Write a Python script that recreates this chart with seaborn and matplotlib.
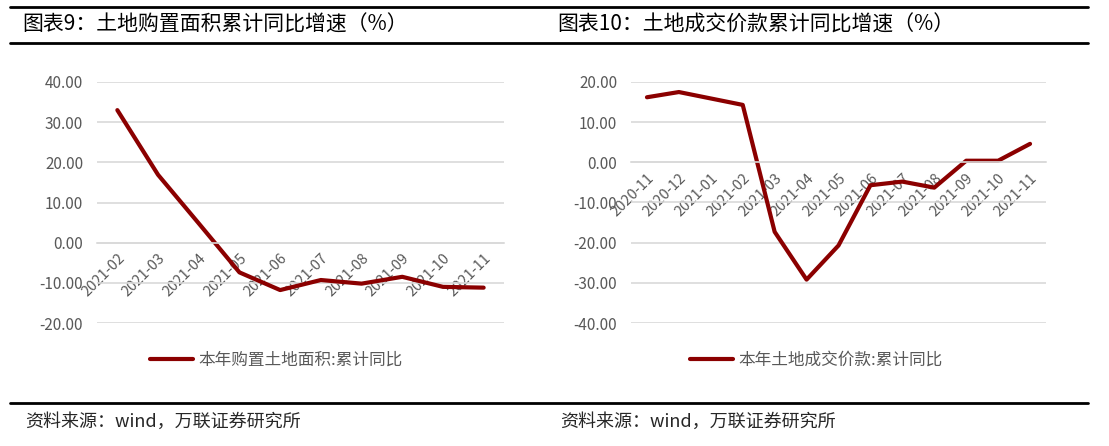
import numpy as np
import pandas as pd
import matplotlib
matplotlib.use("Agg")
import matplotlib.pyplot as plt
import seaborn as sns
from matplotlib.lines import Line2D

# 数据
months_left = ['2021-02', '2021-03', '2021-04', '2021-05', '2021-06', '2021-07',
               '2021-08', '2021-09', '2021-10', '2021-11']
area_yoy = [33.0, 16.9, 4.8, -7.4, -11.8, -9.3, -10.2, -8.5, -11.0, -11.2]

months_right = ['2020-11', '2020-12', '2021-01', '2021-02', '2021-03', '2021-04',
                '2021-05', '2021-06', '2021-07', '2021-08', '2021-09', '2021-10', '2021-11']
price_yoy = [16.2, 17.5, 15.9, 14.3, -17.3, -29.2, -20.7, -5.7, -4.8, -6.3, 0.4, 0.4, 4.6]

titles = ['图表9：土地购置面积累计同比增速（%）', '图表10：土地成交价款累计同比增速（%）']
legend_labels = ['本年购置土地面积:累计同比', '本年土地成交价款:累计同比']
source = '资料来源：wind，万联证券研究所'

sns.set_style('white')
plt.rcParams['font.family'] = ['Noto Sans CJK SC', 'DejaVu Sans']
plt.rcParams['axes.unicode_minus'] = False

W, H = 1109, 446
fig = plt.figure(figsize=(W / 100, H / 100), dpi=100)

red = '#8b0000'
grey = '#595959'
grid = '#d9d9d9'


def draw(rect, months, values, ylim, label, leg_x):
    ax = fig.add_axes(rect)
    df = pd.DataFrame({'month': months, 'value': values})
    sns.lineplot(data=df, x='month', y='value', ax=ax, color=red, lw=3,
                 label=label, sort=False)
    n = len(months)
    ax.set_xlim(-0.5, n - 0.5)
    ax.set_ylim(*ylim)
    yt = np.arange(ylim[0], ylim[1] + 1, 10)
    ax.set_yticks(yt)
    ax.set_yticklabels([f'{v:.2f}' for v in yt], color=grey, fontsize=11)
    ax.tick_params(axis='y', length=0, pad=10)
    ax.yaxis.grid(True, color=grid, lw=1.2)
    ax.set_axisbelow(True)
    for s in ['left', 'right', 'top']:
        ax.spines[s].set_visible(False)
    ax.spines['bottom'].set_position(('data', 0))
    ax.spines['bottom'].set_color(grid)
    ax.spines['bottom'].set_linewidth(1.2)
    ax.set_xticks(range(n))
    ax.set_xticklabels(months, rotation=45, ha='right', va='top',
                       rotation_mode='anchor', color=grey, fontsize=10.5)
    ax.tick_params(axis='x', which='major', length=0, pad=6)
    ax.set_xticks(np.arange(-0.5, n, 1), minor=True)
    ax.tick_params(axis='x', which='minor', length=5, color=grid, width=1.2)
    ax.set_xlabel('')
    ax.set_ylabel('')
    ax.legend(loc='center left', bbox_to_anchor=(leg_x / W, 1 - 360 / H),
              bbox_transform=fig.transFigure, frameon=False, fontsize=12,
              handlelength=2.6, handletextpad=0.3, borderpad=0, borderaxespad=0,
              labelcolor=grey)
    return ax


top, bot = 82, 323
draw([97 / W, 1 - bot / H, (504 - 97) / W, (bot - top) / H],
     months_left, area_yoy, (-20, 40), legend_labels[0], 150)
draw([631 / W, 1 - bot / H, (1046 - 631) / W, (bot - top) / H],
     months_right, price_yoy, (-40, 20), legend_labels[1], 690)

# 标题与分隔线
for y in [7, 43, 403]:
    fig.add_artist(Line2D([10 / W, 1088 / W], [1 - y / H, 1 - y / H],
                          color='black', lw=2, transform=fig.transFigure))
fig.text(22 / W, 1 - 25 / H, titles[0], fontsize=15, va='center', color='black')
fig.text(557 / W, 1 - 25 / H, titles[1], fontsize=15, va='center', color='black')
fig.text(25 / W, 1 - 422 / H, source, fontsize=13, va='center', style='italic')
fig.text(560 / W, 1 - 422 / H, source, fontsize=13, va='center', style='italic')

fig.savefig('out.png', dpi=100)
